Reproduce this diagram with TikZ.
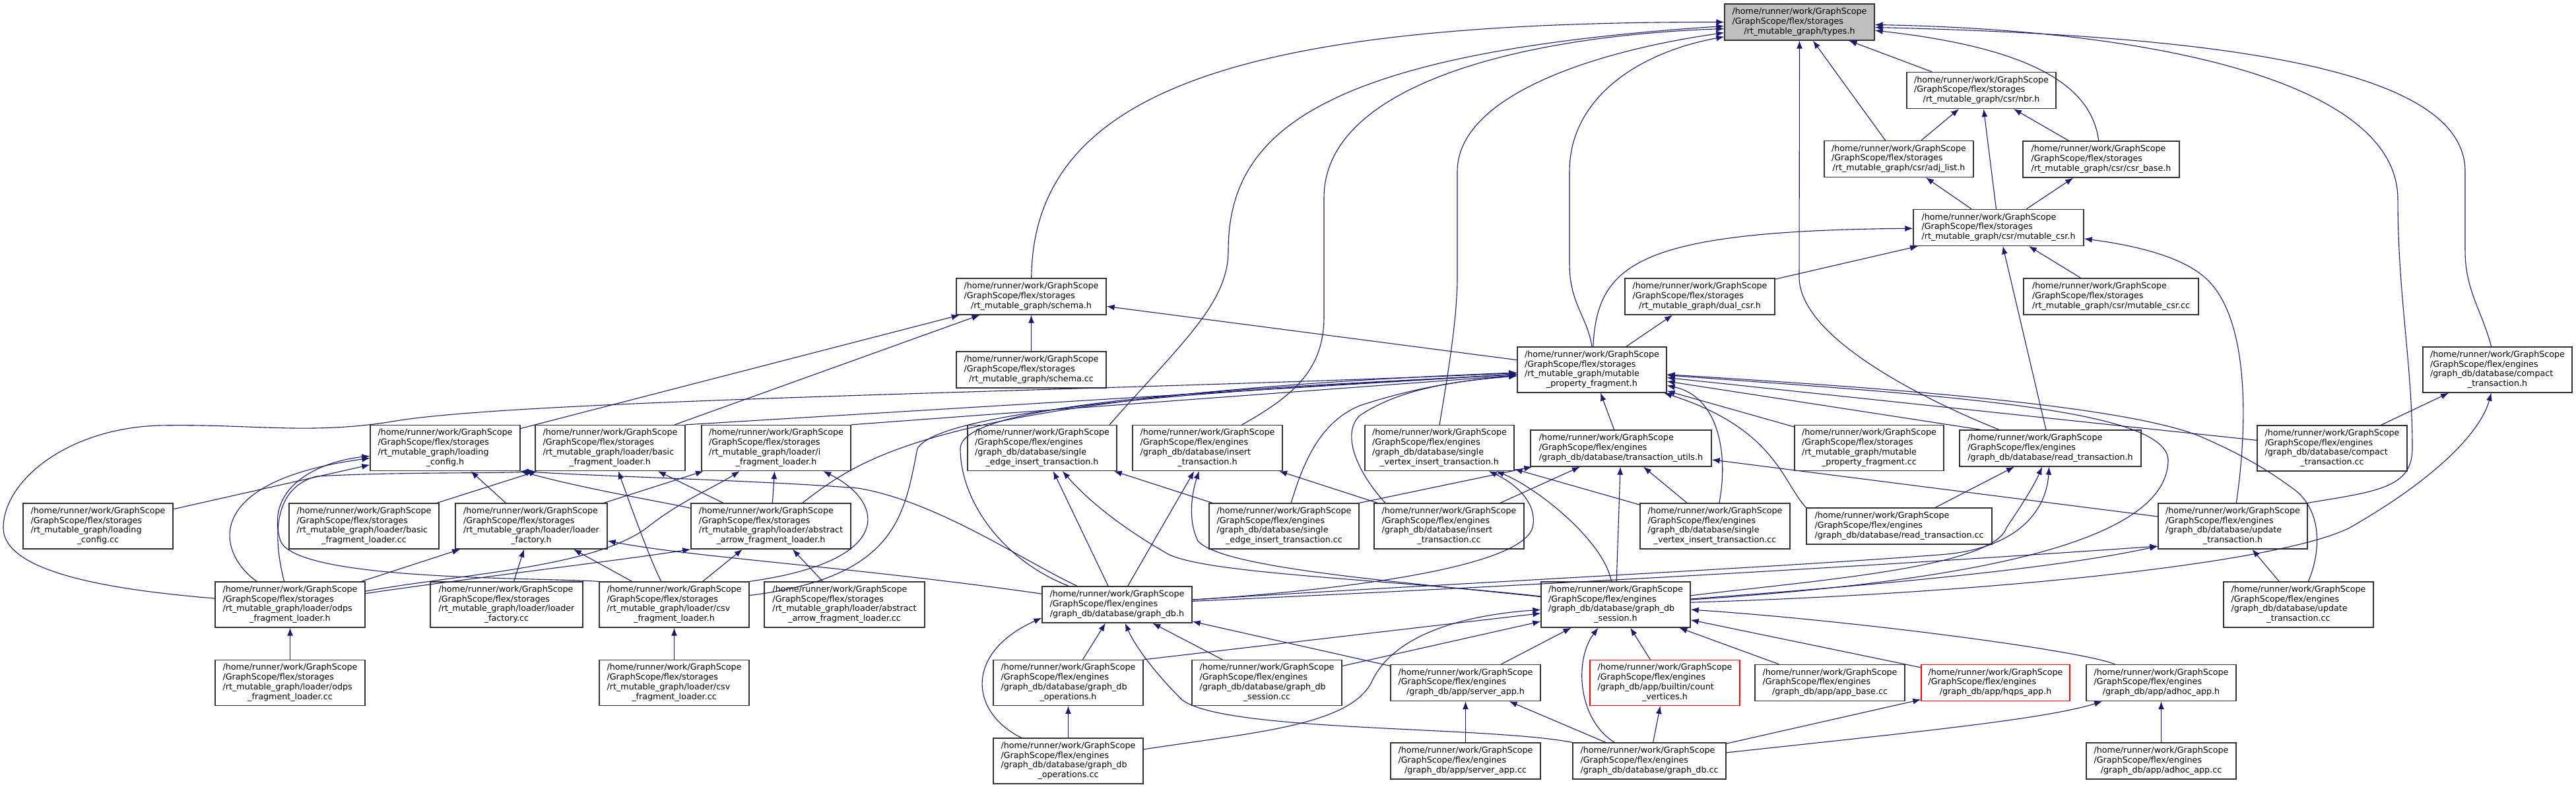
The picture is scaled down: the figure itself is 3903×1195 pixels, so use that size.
\documentclass[tikz,border=0pt]{standalone}
\usepackage{fontspec}
\newfontfamily\dvs{DejaVu Sans}
\usetikzlibrary{arrows.meta}
\definecolor{edgec}{RGB}{25,25,112}
\newcommand{\pathS}{/home/runner/work/GraphScope\\/GraphScope/flex/storages}
\newcommand{\pathE}{/home/runner/work/GraphScope\\/GraphScope/flex/engines}
\newcommand{\lbx}[2]{\begin{tabular}{@{}l@{}}#1\\\multicolumn{1}{@{}c@{}}{#2}\end{tabular}}
\tikzset{
 bx/.style={draw=black!80, fill=white, line width=1.3pt, inner sep=0pt, minimum width=227pt, minimum height=55pt, font=\dvs\fontsize{12.7}{14.7}\selectfont},
 bf/.style={bx, minimum height=69pt},
 ed/.style={draw=edgec, line width=1.1pt, -{Latex[length=12pt,width=9pt]}},
}
\begin{document}
\begin{tikzpicture}[x=1pt,y=-1pt]
\fill[white] (0,0) rectangle (3903,1195);
\useasboundingbox (0,0) rectangle (3903,1195);
% ---------------- nodes
\node[bx,fill=black!25] (types) at (2726.5,33.5) {\lbx{\pathS}{/rt\_mutable\_graph/types.h}};
\node[bx,minimum width=226pt] (nbr) at (3002,137) {\lbx{\pathS}{/rt\_mutable\_graph/csr/nbr.h}};
\node[bx,minimum width=226pt] (adjlist) at (2877,241) {\lbx{\pathS}{/rt\_mutable\_graph/csr/adj\_list.h}};
\node[bx,minimum width=237pt] (csrbase) at (3183.5,241.5) {\lbx{\pathS}{/rt\_mutable\_graph/csr/csr\_base.h}};
\node[bx,minimum width=258pt] (mcsr) at (3028,345) {\lbx{\pathS}{/rt\_mutable\_graph/csr/mutable\_csr.h}};
\node[bx] (dualcsr) at (2575.5,449.5) {\lbx{\pathS}{/rt\_mutable\_graph/dual\_csr.h}};
\node[bx,minimum width=265pt] (mcsrcc) at (3198.5,449.5) {\lbx{\pathS}{/rt\_mutable\_graph/csr/mutable\_csr.cc}};
\node[bx] (schema) at (1562.5,449.5) {\lbx{\pathS}{/rt\_mutable\_graph/schema.h}};
\node[bx] (schemacc) at (1562.5,560.5) {\lbx{\pathS}{/rt\_mutable\_graph/schema.cc}};
\node[bf,minimum width=226pt] (mpf) at (2412,560.5) {\lbx{\pathS\\/rt\_mutable\_graph/mutable}{\_property\_fragment.h}};
\node[bf,minimum width=226pt] (compacth) at (3784,560.5) {\lbx{\pathE\\/graph\_db/database/compact}{\_transaction.h}};
\node[bf] (loadcfg) at (674.5,679) {\lbx{\pathS\\/rt\_mutable\_graph/loading}{\_config.h}};
\node[bf] (basicfl) at (924.5,679) {\lbx{\pathS\\/rt\_mutable\_graph/loader/basic}{\_fragment\_loader.h}};
\node[bf,minimum width=226pt] (ifl) at (1176,679) {\lbx{\pathS\\/rt\_mutable\_graph/loader/i}{\_fragment\_loader.h}};
\node[bf,minimum width=226pt] (seit) at (1579,679) {\lbx{\pathE\\/graph\_db/database/single}{\_edge\_insert\_transaction.h}};
\node[bf] (insert) at (1829.5,679) {\lbx{\pathE\\/graph\_db/database/insert}{\_transaction.h}};
\node[bf,minimum width=226pt] (svit) at (2181,679) {\lbx{\pathE\\/graph\_db/database/single}{\_vertex\_insert\_transaction.h}};
\node[bx,minimum width=274pt] (tutils) at (2456,679.5) {\lbx{\pathE}{/graph\_db/database/transaction\_utils.h}};
\node[bf,minimum width=226pt] (mpfcc) at (2832,679) {\lbx{\pathS\\/rt\_mutable\_graph/mutable}{\_property\_fragment.cc}};
\node[bx,minimum width=275pt] (readh) at (3106.5,679.5) {\lbx{\pathE}{/graph\_db/database/read\_transaction.h}};
\node[bf] (compactcc) at (3533.5,679.5) {\lbx{\pathE\\/graph\_db/database/compact}{\_transaction.cc}};
\node[bf] (loadcfgcc) at (148.5,797.5) {\lbx{\pathS\\/rt\_mutable\_graph/loading}{\_config.cc}};
\node[bf] (basicflcc) at (551.5,797.5) {\lbx{\pathS\\/rt\_mutable\_graph/loader/basic}{\_fragment\_loader.cc}};
\node[bf,minimum width=230pt] (lfh) at (805,797.5) {\lbx{\pathS\\/rt\_mutable\_graph/loader/loader}{\_factory.h}};
\node[bf,minimum width=242pt] (aafl) at (1168,797.5) {\lbx{\pathS\\/rt\_mutable\_graph/loader/abstract}{\_arrow\_fragment\_loader.h}};
\node[bf] (seitcc) at (1945.5,797.5) {\lbx{\pathE\\/graph\_db/database/single}{\_edge\_insert\_transaction.cc}};
\node[bf] (insertcc) at (2195.5,797.5) {\lbx{\pathE\\/graph\_db/database/insert}{\_transaction.cc}};
\node[bf] (svitcc) at (2598.5,797.5) {\lbx{\pathE\\/graph\_db/database/single}{\_vertex\_insert\_transaction.cc}};
\node[bx,minimum width=281pt] (readcc) at (2877.5,797.5) {\lbx{\pathE}{/graph\_db/database/read\_transaction.cc}};
\node[bf,minimum width=226pt] (updateh) at (3383,797.5) {\lbx{\pathE\\/graph\_db/database/update}{\_transaction.h}};
\node[bf] (odpsh) at (439.5,916.5) {\lbx{\pathS\\/rt\_mutable\_graph/loader/odps}{\_fragment\_loader.h}};
\node[bf,minimum width=231pt] (lfcc) at (767.5,916.5) {\lbx{\pathS\\/rt\_mutable\_graph/loader/loader}{\_factory.cc}};
\node[bf] (csvh) at (1021.5,916.5) {\lbx{\pathS\\/rt\_mutable\_graph/loader/csv}{\_fragment\_loader.h}};
\node[bf,minimum width=243pt] (aaflcc) at (1279.5,916.5) {\lbx{\pathS\\/rt\_mutable\_graph/loader/abstract}{\_arrow\_fragment\_loader.cc}};
\node[bx] (graphdbh) at (1692.5,916.5) {\lbx{\pathE}{/graph\_db/database/graph\_db.h}};
\node[bf,minimum width=226pt] (sessionh) at (2448,916.5) {\lbx{\pathE\\/graph\_db/database/graph\_db}{\_session.h}};
\node[bf] (updatecc) at (3482.5,916.5) {\lbx{\pathE\\/graph\_db/database/update}{\_transaction.cc}};
\node[bf] (odpscc) at (439.5,1035) {\lbx{\pathS\\/rt\_mutable\_graph/loader/odps}{\_fragment\_loader.cc}};
\node[bf] (csvcc) at (1021.5,1035) {\lbx{\pathS\\/rt\_mutable\_graph/loader/csv}{\_fragment\_loader.cc}};
\node[bf] (opsh) at (1618.5,1035) {\lbx{\pathE\\/graph\_db/database/graph\_db}{\_operations.h}};
\node[bf] (sessioncc) at (1919.5,1035) {\lbx{\pathE\\/graph\_db/database/graph\_db}{\_session.cc}};
\node[bx] (serverh) at (2220.5,1035) {\lbx{\pathE}{/graph\_db/app/server\_app.h}};
\node[bf,draw=red] (countv) at (2522.5,1035) {\lbx{\pathE\\/graph\_db/app/builtin/count}{\_vertices.h}};
\node[bx] (appbase) at (2772.5,1035) {\lbx{\pathE}{/graph\_db/app/app\_base.cc}};
\node[bx,draw=red,minimum width=225pt] (hqps) at (3023.5,1035) {\lbx{\pathE}{/graph\_db/app/hqps\_app.h}};
\node[bx] (adhoch) at (3274.5,1035) {\lbx{\pathE}{/graph\_db/app/adhoc\_app.h}};
\node[bf] (opscc) at (1618.5,1153.5) {\lbx{\pathE\\/graph\_db/database/graph\_db}{\_operations.cc}};
\node[bx] (servercc) at (2220.5,1153.5) {\lbx{\pathE}{/graph\_db/app/server\_app.cc}};
\node[bx,minimum width=232pt] (graphdbcc) at (2499,1153.5) {\lbx{\pathE}{/graph\_db/database/graph\_db.cc}};
\node[bx] (adhoccc) at (3274.5,1153.5) {\lbx{\pathE}{/graph\_db/app/adhoc\_app.cc}};
% ---------------- edges: csr cluster
\draw[ed] (nbr) -- (types);
\draw[ed] (adjlist) -- (types);
\draw[ed] (csrbase) .. controls (3170,140) and (3100,75) .. (types);
\draw[ed] (adjlist) -- (nbr);
\draw[ed] (csrbase) -- (nbr);
\draw[ed] (mcsr) -- (nbr);
\draw[ed] (mcsr) -- (adjlist);
\draw[ed] (mcsr) -- (csrbase);
\draw[ed] (dualcsr) -- (mcsr);
\draw[ed] (mcsrcc) -- (mcsr);
\draw[ed] (readh) -- (mcsr);
\draw[ed] (updateh) .. controls (3405,650) and (3410,480) .. (3340,420) .. controls (3300,385) and (3220,370) .. (mcsr);
\draw[ed] (mpf) .. controls (2420,400) and (2480,350) .. (mcsr);
\draw[ed] (mpf) -- (dualcsr);
% types fan
\draw[ed] (schema) .. controls (1565,130) and (1900,33) .. (types.180);
\draw[ed] (seit.19) .. controls (1790,520) and (1861,460) .. (1861,380) .. controls (1861,200) and (2000,80) .. (types.183);
\draw[ed] (insert.34) .. controls (1960,600) and (2006,560) .. (2006,480) -- (2006,300) .. controls (2006,130) and (2300,55) .. (types.185);
\draw[ed] (svit.north) .. controls (2195,560) and (2208,480) .. (2208,420) -- (2208,260) .. controls (2208,150) and (2400,80) .. (types.188);
\draw[ed] (mpf.north) .. controls (2405,480) and (2378,460) .. (2378,400) -- (2378,260) .. controls (2378,150) and (2480,80) .. (types.191);
\draw[ed] (readh.160) .. controls (2950,620) and (2726,520) .. (2726,420) -- (types.south);
\draw[ed] (updateh.north east) .. controls (3600,745) and (3655,740) .. (3655,680) .. controls (3655,550) and (3633,450) .. (3633,300) .. controls (3630,120) and (3250,45) .. (types.358);
\draw[ed] (compacth) .. controls (3760,470) and (3735,440) .. (3735,380) -- (3735,260) .. controls (3735,110) and (3400,55) .. (types.356);
% schema
\draw[ed] (schemacc) -- (schema);
\draw[ed] (loadcfg) -- (schema);
\draw[ed] (basicfl) -- (schema);
\draw[ed] (mpf) -- (schema);
% into mpf
\draw[ed] (tutils) -- (mpf);
\draw[ed] (mpfcc) -- (mpf);
\draw[ed] (readh.165) -- (mpf);
\draw[ed] (compactcc) -- (mpf);
\draw[ed] (readcc.north west) .. controls (2700,730) and (2690,650) .. (mpf);
\draw[ed] (svitcc) .. controls (2620,680) and (2600,600) .. (mpf);
\draw[ed] (seitcc) .. controls (1975,700) and (2000,640) .. (2060,615) .. controls (2150,585) and (2230,575) .. (mpf);
\draw[ed] (insertcc.160) .. controls (2060,720) and (2030,660) .. (2060,630) .. controls (2120,590) and (2200,578) .. (mpf);
\draw[ed] (sessionh) .. controls (3000,880) and (3280,820) .. (3285,700) .. controls (3290,620) and (2950,600) .. (mpf);
\draw[ed] (updatecc) .. controls (3515,840) and (3520,780) .. (3480,745) .. controls (3440,715) and (3400,690) .. (3330,660) .. controls (3200,610) and (2800,585) .. (mpf);
\draw[ed] (graphdbh) .. controls (1520,850) and (1455,760) .. (1455,680) .. controls (1455,600) and (2000,585) .. (mpf);
\draw[ed] (csvh) .. controls (1360,875) and (1370,780) .. (1390,680) .. controls (1430,610) and (2000,585) .. (mpf);
\draw[ed] (aafl) .. controls (1300,700) and (1400,600) .. (mpf);
\draw[ed] (ifl.north east) -- (mpf);
\draw[ed] (basicfl.north east) -- (mpf);
\draw[ed] (odpsh) .. controls (180,895) and (5,870) .. (5,800) .. controls (5,730) and (100,650) .. (240,645) .. controls (380,642) and (470,660) .. (600,638) .. controls (800,605) and (1700,592) .. (mpf);
% loader
\draw[ed] (loadcfgcc) -- (loadcfg);
\draw[ed] (odpsh) .. controls (330,840) and (300,730) .. (loadcfg);
\draw[ed] (csvh.north west) .. controls (800,875) and (450,880) .. (425,820) .. controls (400,740) and (480,700) .. (loadcfg);
\draw[ed] (odpsh) .. controls (415,820) and (410,740) .. (480,722) .. controls (600,715) and (760,718) .. (basicfl.south west);
\draw[ed] (lfh) -- (loadcfg);
\draw[ed] (graphdbh) .. controls (1550,850) and (1420,760) .. (1300,740) .. controls (1150,728) and (900,722) .. (loadcfg.south east);
\draw[ed] (aafl) .. controls (1000,760) and (880,740) .. (loadcfg.south east);
\draw[ed] (lfh) -- (ifl);
\draw[ed] (lfcc) -- (lfh);
\draw[ed] (odpsh) -- (lfh);
\draw[ed] (csvh) -- (lfh);
\draw[ed] (graphdbh) .. controls (1300,860) and (1050,845) .. (lfh);
\draw[ed] (aafl) -- (ifl);
\draw[ed] (aafl) -- (basicfl);
\draw[ed] (odpsh) .. controls (700,870) and (900,860) .. (980,800) .. controls (1030,760) and (1080,740) .. (ifl);
\draw[ed] (odpsh) .. controls (700,878) and (950,848) .. (aafl.south west);
\draw[ed] (csvh) -- (aafl);
\draw[ed] (csvh) .. controls (990,860) and (960,780) .. (basicfl);
\draw[ed] (csvh.north east) .. controls (1360,850) and (1340,760) .. (ifl);
\draw[ed] (csvcc) -- (csvh);
\draw[ed] (odpscc) -- (odpsh);
\draw[ed] (aaflcc) -- (aafl);
\draw[ed] (basicflcc) -- (basicfl);
% graph_db.h
\draw[ed] (graphdbh) -- (seit);
\draw[ed] (graphdbh) -- (insert);
\draw[ed] (graphdbh) .. controls (1950,900) and (2300,870) .. (2322,800) .. controls (2330,765) and (2300,735) .. (svit);
\draw[ed] (graphdbh) .. controls (2100,890) and (2700,860) .. (2950,840) .. controls (3050,830) and (3100,780) .. (readh);
\draw[ed] (graphdbh) .. controls (2100,898) and (2700,868) .. (updateh.195);
\draw[ed] (opsh) -- (graphdbh);
\draw[ed] (opscc) .. controls (1470,1080) and (1460,990) .. (graphdbh.190);
\draw[ed] (sessioncc) -- (graphdbh);
\draw[ed] (graphdbcc.north west) .. controls (2250,1100) and (1850,1110) .. (1790,1060) .. controls (1750,1020) and (1720,980) .. (graphdbh);
\draw[ed] (serverh) -- (graphdbh);
% session
\draw[ed] (sessionh) .. controls (2100,880) and (1850,860) .. (1815,820) .. controls (1800,790) and (1805,750) .. (insert.250);
\draw[ed] (sessionh) .. controls (2100,878) and (1830,870) .. (1770,840) .. controls (1700,800) and (1650,760) .. (seit);
\draw[ed] (sessionh) .. controls (2430,820) and (2330,740) .. (svit);
\draw[ed] (sessionh) -- (tutils);
\draw[ed] (sessionh) .. controls (2750,880) and (3020,860) .. (3040,800) .. controls (3060,770) and (3080,740) .. (readh);
\draw[ed] (sessionh) .. controls (2800,890) and (3100,865) .. (updateh.195);
\draw[ed] (sessionh) .. controls (3000,900) and (3450,855) .. (3560,800) .. controls (3700,720) and (3760,650) .. (compacth);
\draw[ed] (serverh) -- (sessionh);
\draw[ed] (graphdbcc.152) .. controls (2390,1090) and (2385,1000) .. (sessionh);
\draw[ed] (countv) -- (sessionh);
\draw[ed] (appbase) -- (sessionh);
\draw[ed] (hqps) -- (sessionh);
\draw[ed] (adhoch) .. controls (3150,985) and (2800,940) .. (sessionh);
\draw[ed] (opsh.north east) -- (sessionh);
\draw[ed] (opscc) .. controls (1900,1110) and (2050,1100) .. (2080,1030) .. controls (2120,950) and (2250,930) .. (sessionh);
\draw[ed] (sessioncc) -- (sessionh);
% apps
\draw[ed] (graphdbcc) -- (serverh);
\draw[ed] (graphdbcc) -- (countv);
\draw[ed] (graphdbcc) -- (hqps);
\draw[ed] (graphdbcc) .. controls (2900,1110) and (3100,1090) .. (adhoch);
\draw[ed] (servercc) -- (serverh);
\draw[ed] (adhoccc) -- (adhoch);
\draw[ed] (opscc) -- (opsh);
% transactions
\draw[ed] (seitcc.north east) -- (tutils);
\draw[ed] (insertcc) -- (tutils);
\draw[ed] (svitcc) -- (tutils);
\draw[ed] (updateh) -- (tutils);
\draw[ed] (seitcc) -- (seit);
\draw[ed] (insertcc) -- (insert);
\draw[ed] (svitcc) -- (svit);
\draw[ed] (readcc) -- (readh);
\draw[ed] (compactcc) -- (compacth);
\draw[ed] (updatecc) -- (updateh);
\end{tikzpicture}
\end{document}
